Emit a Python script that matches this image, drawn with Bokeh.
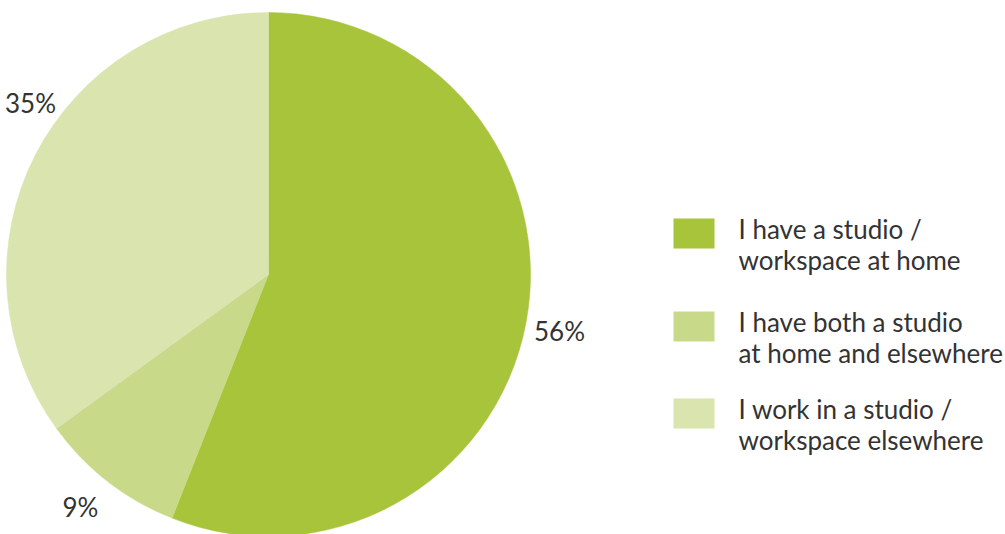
import math
from bokeh.plotting import figure
from bokeh.models import Range1d
from bokeh.embed import file_html
from bokeh.resources import INLINE
from bokeh.core.properties import value

# ---- data ----
categories = ["I have a studio /\nworkspace at home",
              "I have both a studio\nat home and elsewhere",
              "I work in a studio /\nworkspace elsewhere"]
shares = [56, 9, 35]
pct_labels = ["56%", "9%", "35%"]
colors = ["#a8c43a", "#c8d98a", "#dae4ae"]

# ---- layout (page pixel space, y measured from top of window) ----
W, H = 1005, 534
def Y(page_y):
    return 534 - page_y

cx, cy, R = 268, Y(274), 262
label_pos = [(559, 330), (80, 506), (30, 102)]   # page coords of percent labels
legend_rows = [228, 321, 408]                     # first-line centres
sq_x0, sq_x1, txt_x = 673, 714, 738
FONT = "Lato"
TXT = "#333333"

p = figure(width=W, height=H, output_backend="svg", toolbar_location=None,
           x_range=Range1d(0, W), y_range=Range1d(Y(H), Y(0)),
           min_border=0)
p.axis.visible = False
p.grid.visible = False
p.outline_line_color = None
p.background_fill_color = "white"
p.border_fill_color = "white"

total = sum(shares)
start = math.pi / 2
for s, c in zip(shares, colors):
    end = start - 2 * math.pi * s / total
    p.wedge(x=cx, y=cy, radius=R, start_angle=end, end_angle=start,
            fill_color=c, line_color=c, line_width=0.5)
    start = end

for lab, (lx, ly) in zip(pct_labels, label_pos):
    p.text(x=[lx], y=[Y(ly)], text=[lab], text_align="center", text_baseline="middle",
           text_font=value(FONT), text_font_size="26px", text_color=TXT)

for cat, c, my in zip(categories, colors, legend_rows):
    top = my - 10
    p.quad(left=sq_x0, right=sq_x1, top=Y(top), bottom=Y(top + 30),
           fill_color=c, line_color=None)
    for i, line in enumerate(cat.split("\n")):
        p.text(x=[txt_x], y=[Y(my + 31 * i)], text=[line], text_align="left",
               text_baseline="middle", text_font=value(FONT),
               text_font_size="26px", text_color=TXT)

open("out.html", "w").write(file_html(p, INLINE))
